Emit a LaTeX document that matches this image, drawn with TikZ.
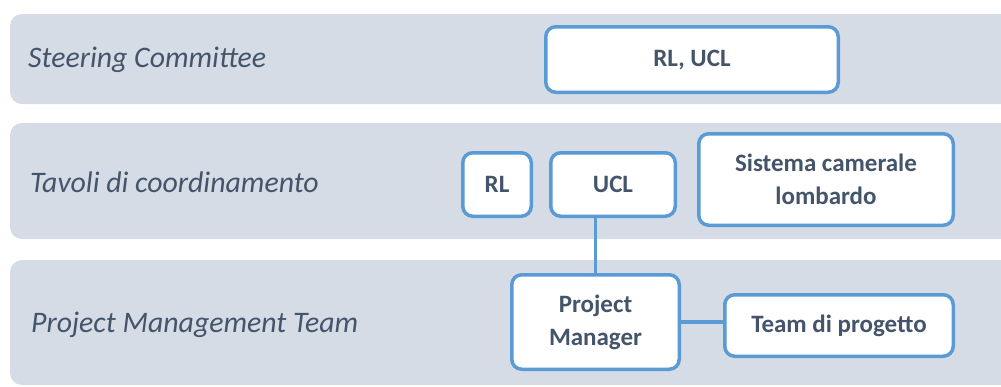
\documentclass[tikz,border=0pt]{standalone}
\usepackage{fontspec}
\setmainfont{Carlito}
\begin{document}
\definecolor{bandgray}{HTML}{D6DCE5}
\definecolor{boxblue}{HTML}{5B9BD5}
\definecolor{inkslate}{HTML}{44546A}
\begin{tikzpicture}[x=1pt,y=-1pt,
  band/.style={fill=bandgray, rounded corners=12pt},
  levellabel/.style={anchor=west, inner sep=0pt, text=inkslate,
    font=\fontsize{29.8}{36}\selectfont\itshape},
  unitbox/.style={draw=boxblue, line width=3.5pt, fill=white, rounded corners=10pt,
    text=inkslate, align=center, inner sep=0pt,
    font=\fontsize{25}{33}\selectfont\bfseries},
  link/.style={draw=boxblue, line width=3.5pt}]
\useasboundingbox (0,0) rectangle (1001,386);

% horizontal levels
\fill[band] (10,14) rectangle (1030,104);
\fill[band] (10,123) rectangle (1030,239);
\fill[band] (10,260) rectangle (1030,385);

\node[levellabel] (lsc) at (28,60) {Steering Committee};
\node[levellabel] (ltc) at (30,182) {Tavoli di coordinamento};
\node[levellabel] (lpm) at (31,325) {Project Management Team};

% members of each level
\node[unitbox, minimum width=292.5pt, minimum height=65.5pt] (sc) at (692,59.5) {RL, UCL};
\node[unitbox, minimum width=68.5pt, minimum height=63.5pt] (rl) at (497,184.5) {RL};
\node[unitbox, minimum width=124.5pt, minimum height=63.5pt] (ucl) at (613,184.5) {UCL};
\node[unitbox, minimum width=254.5pt, minimum height=91.5pt] (scl) at (826,179.5) {Sistema camerale\\lombardo};
\node[unitbox, minimum width=167.5pt, minimum height=94.5pt] (pm) at (595.5,322) {Project\\Manager};
\node[unitbox, minimum width=228.5pt, minimum height=61.5pt] (team) at (839,325.5) {Team di progetto};

% connectors
\draw[link] (pm.north) -- (pm.north |- ucl.south);
\draw[link] (pm.east) -- (pm.east -| team.west);
\end{tikzpicture}
\end{document}
